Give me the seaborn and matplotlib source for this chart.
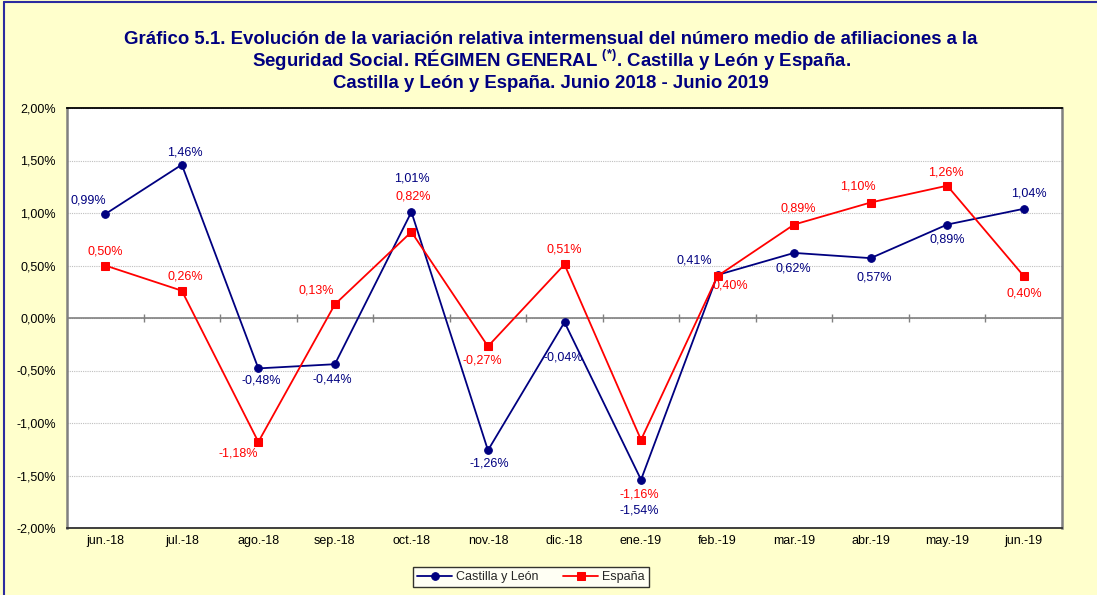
import matplotlib
matplotlib.use("Agg")
import matplotlib.pyplot as plt
import matplotlib.ticker as mticker
import seaborn as sns
import pandas as pd
import numpy as np

# ---- data ----
months = ["jun.-18", "jul.-18", "ago.-18", "sep.-18", "oct.-18", "nov.-18", "dic.-18",
          "ene.-19", "feb.-19", "mar.-19", "abr.-19", "may.-19", "jun.-19"]
cyl = [0.99, 1.46, -0.48, -0.44, 1.01, -1.26, -0.04, -1.54, 0.41, 0.62, 0.57, 0.89, 1.04]
espana = [0.50, 0.26, -1.18, 0.13, 0.82, -0.27, 0.51, -1.16, 0.40, 0.89, 1.10, 1.26, 0.40]
series_names = ["Castilla y León", "España"]

title_l1 = "Gráfico 5.1. Evolución de la variación relativa intermensual del número medio de afiliaciones a la"
title_l2 = r"Seguridad Social. RÉGIMEN GENERAL $^{\mathbf{(*)}}$. Castilla y León y España."
title_l3 = "Castilla y León y España. Junio 2018 - Junio 2019"

# label offsets (pixels) - style only
cyl_off = [(-17, 14), (3, 12), (3, -12), (-3, -15), (0, 33), (1, -13), (-1, -35),
           (-2, -31), (-23, 14), (-1, -16), (4, -19), (0, -15), (5, 15)]
esp_off = [(0, 14), (4, 14), (-20, -12), (-19, 14), (2, 35), (-6, -14), (0, 15),
           (-2, -55), (13, -10), (4, 16), (-13, 16), (-1, 13), (1, -17)]

NAVY = "#000080"
RED = "#FF0000"

sns.set_theme(style="white")
plt.rcParams["font.family"] = ["Liberation Sans", "DejaVu Sans"]
plt.rcParams["mathtext.fontset"] = "custom"
plt.rcParams["mathtext.rm"] = "Liberation Sans"
plt.rcParams["mathtext.bf"] = "Liberation Sans:bold"

df = pd.DataFrame({"mes": months * 2,
                   "x": list(range(len(months))) * 2,
                   "valor": cyl + espana,
                   "serie": [series_names[0]] * len(months) + [series_names[1]] * len(months)})

fig = plt.figure(figsize=(10.97, 5.95), dpi=100)
fig.patch.set_facecolor("#FFFFCC")
ax = fig.add_axes([67 / 1097, 1 - 528 / 595, (1062 - 67) / 1097, (528 - 108) / 595])
ax.set_facecolor("white")

# figure border (navy, top and left visible)
fig.add_artist(plt.Line2D([4 / 1097, 4 / 1097], [0, 1 - 2 / 595], transform=fig.transFigure,
                          color="#2B2BA0", lw=1.5))
fig.add_artist(plt.Line2D([4 / 1097, 1], [1 - 2 / 595, 1 - 2 / 595], transform=fig.transFigure,
                          color="#2B2BA0", lw=1.5))

# gridlines
ax.set_ylim(-2.0, 2.0)
ax.set_xlim(-0.5, len(months) - 0.5)
ax.yaxis.set_major_locator(mticker.MultipleLocator(0.5))
ax.yaxis.grid(True, color="#BFBFBF", linestyle=(0, (1, 1)), linewidth=0.8)
ax.set_axisbelow(True)

# zero line with tick marks at category boundaries
ax.axhline(0, color="#808080", lw=1.2, zorder=1)
bounds = np.arange(0.5, len(months) - 0.5, 1.0)
ax.vlines(bounds, -0.035, 0.035, color="#808080", lw=1.0, zorder=1)

sns.lineplot(data=df[df.serie == series_names[0]], x="x", y="valor", ax=ax, color=NAVY,
             marker="o", markersize=5.5, markeredgecolor=NAVY, lw=1.3, label=series_names[0],
             zorder=3)
sns.lineplot(data=df[df.serie == series_names[1]], x="x", y="valor", ax=ax, color=RED,
             marker="s", markersize=5.5, markeredgecolor=RED, lw=1.3, label=series_names[1],
             zorder=3)


def fmt(v):
    return f"{v:.2f}%".replace(".", ",")


for i, v in enumerate(cyl):
    ax.annotate(fmt(v), (i, v), xytext=cyl_off[i], textcoords="offset pixels",
                ha="center", va="center", fontsize=9, color=NAVY)
for i, v in enumerate(espana):
    ax.annotate(fmt(v), (i, v), xytext=esp_off[i], textcoords="offset pixels",
                ha="center", va="center", fontsize=9, color=RED)

ax.set_xticks(range(len(months)))
ax.set_xticklabels(months)
ax.yaxis.set_major_formatter(mticker.FuncFormatter(lambda v, p: f"{v:.2f}%".replace(".", ",")))
ax.tick_params(axis="both", labelsize=9, colors="black", length=0, pad=5)
ax.tick_params(axis="y", pad=8)
ax.set_xlabel("")
ax.set_ylabel("")

for side, c, w in [("top", "black", 1.3), ("bottom", "#303030", 1.3),
                   ("left", "#808080", 1.8), ("right", "#808080", 1.8)]:
    ax.spines[side].set_visible(True)
    ax.spines[side].set_color(c)
    ax.spines[side].set_linewidth(w)

ax.get_legend().remove()
h, l = ax.get_legend_handles_labels()
leg = fig.legend(h, l, loc="center", bbox_to_anchor=(531 / 1097, 1 - 577 / 595), ncol=2,
                 frameon=True, fancybox=False, fontsize=9, handlelength=2.8,
                 borderpad=0.3, columnspacing=2.0, handletextpad=0.3, borderaxespad=0)
leg.get_frame().set_edgecolor("black")
leg.get_frame().set_linewidth(1.0)
leg.get_frame().set_facecolor("white")

tkw = dict(ha="center", va="center", fontsize=13.4, fontweight="bold", color=NAVY)
fig.text(551 / 1097, 1 - 40 / 595, title_l1, **tkw)
fig.text(551 / 1097, 1 - 60 / 595, title_l2, **tkw)
fig.text(551 / 1097, 1 - 84 / 595, title_l3, **tkw)

fig.savefig("out.png", dpi=100, facecolor=fig.get_facecolor())
